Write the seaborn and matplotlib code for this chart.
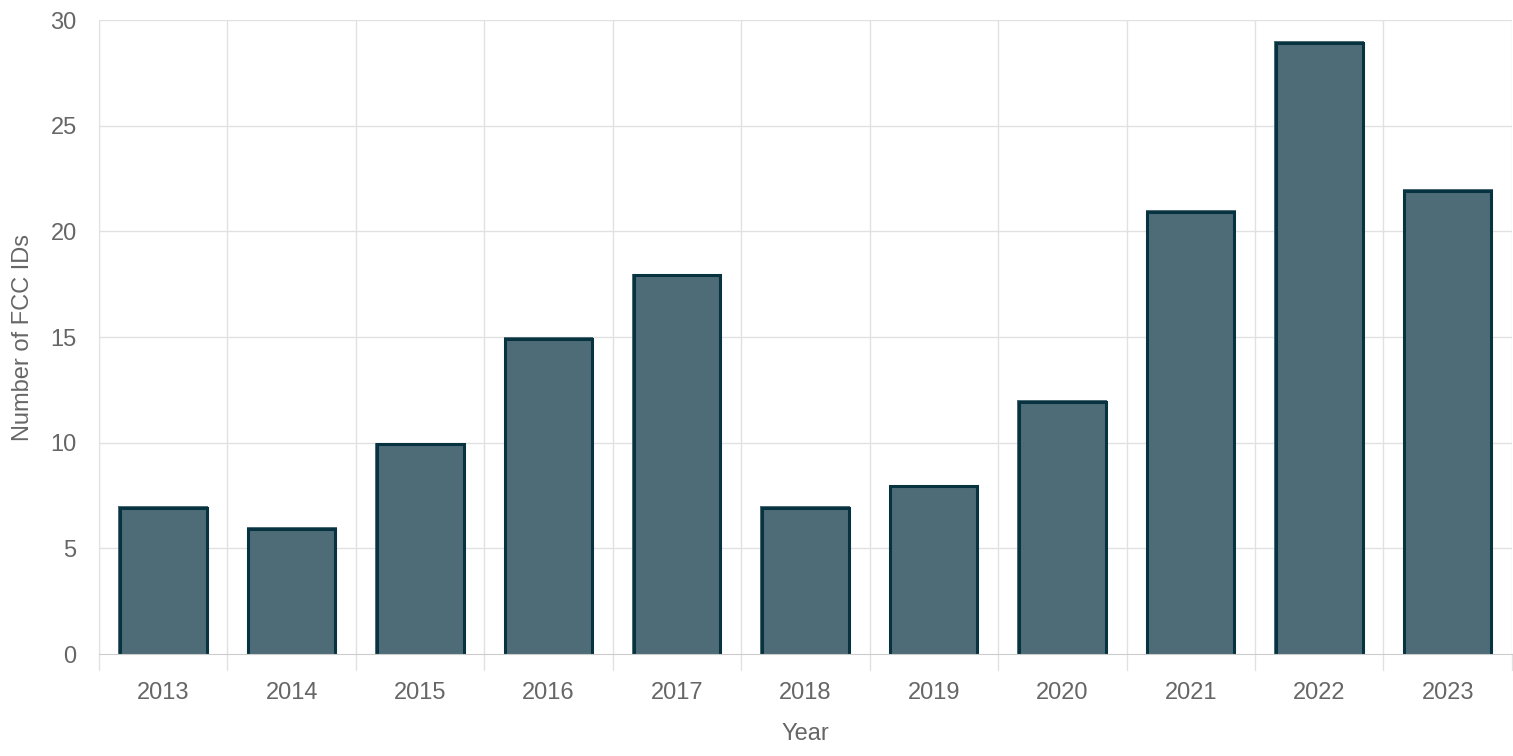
import matplotlib
matplotlib.use("Agg")
import matplotlib.pyplot as plt
import seaborn as sns
import pandas as pd
import numpy as np

# data
years = ["2013", "2014", "2015", "2016", "2017", "2018", "2019", "2020", "2021", "2022", "2023"]
counts = [7, 6, 10, 15, 18, 7, 8, 12, 21, 29, 22]

df = pd.DataFrame({"Year": years, "count": counts})

sns.set_style("white")
plt.rcParams['font.family'] = ['Liberation Sans', 'DejaVu Sans']

fill = "#4d6c77"
edge = "#073340"
grid = "#e1e1e1"
text = "#666666"

fig = plt.figure(figsize=(15.13, 7.56), dpi=100)
ax = fig.add_axes([0.0654, 0.1349, 0.9339, 0.8386])

sns.barplot(data=df, x="Year", y="count", color=fill, saturation=1,
            width=0.7, linewidth=0, ax=ax, zorder=3)

# chart.js style border: left, top, right only, drawn inside the bar
lw = 2.2
inv = ax.transData.inverted()
dx = abs(inv.transform((1.5, 0))[0] - inv.transform((0, 0))[0])
dy = abs(inv.transform((0, 1.5))[1] - inv.transform((0, 0))[1])
for p in ax.patches:
    x0, y0 = p.get_x(), p.get_y()
    w, h = p.get_width(), p.get_height()
    ax.plot([x0 + dx, x0 + dx, x0 + w - dx, x0 + w - dx],
            [y0, y0 + h - dy, y0 + h - dy, y0],
            color=edge, lw=lw, solid_joinstyle="miter", zorder=4)

n = len(years)
ax.set_xlim(-0.5, n - 0.5)
ax.set_ylim(0, 30)
ax.set_yticks(np.arange(0, 31, 5))

# gridlines at category boundaries
for b in np.arange(-0.5, n, 1.0):
    ax.axvline(b, color=grid, lw=1, zorder=0)
    ax.plot([b, b], [0, -0.75], color=grid, lw=1, clip_on=False, zorder=0)
for yv in np.arange(5, 31, 5):
    ax.axhline(yv, color=grid, lw=1, zorder=0)

ax.tick_params(axis="x", length=0, pad=20, labelsize=17, labelcolor=text)
ax.tick_params(axis="y", length=10, width=1, color=grid, pad=6, labelsize=17, labelcolor=text)

for s in ["top", "right"]:
    ax.spines[s].set_visible(False)
ax.spines["left"].set_color(grid)
ax.spines["bottom"].set_color("#cccccc")
ax.spines["bottom"].set_zorder(5)

ax.set_xlabel("Year", fontsize=17, color=text, labelpad=14)
ax.set_ylabel("Number of FCC IDs", fontsize=17, color=text, labelpad=12)

fig.savefig("out.png", dpi=100)
